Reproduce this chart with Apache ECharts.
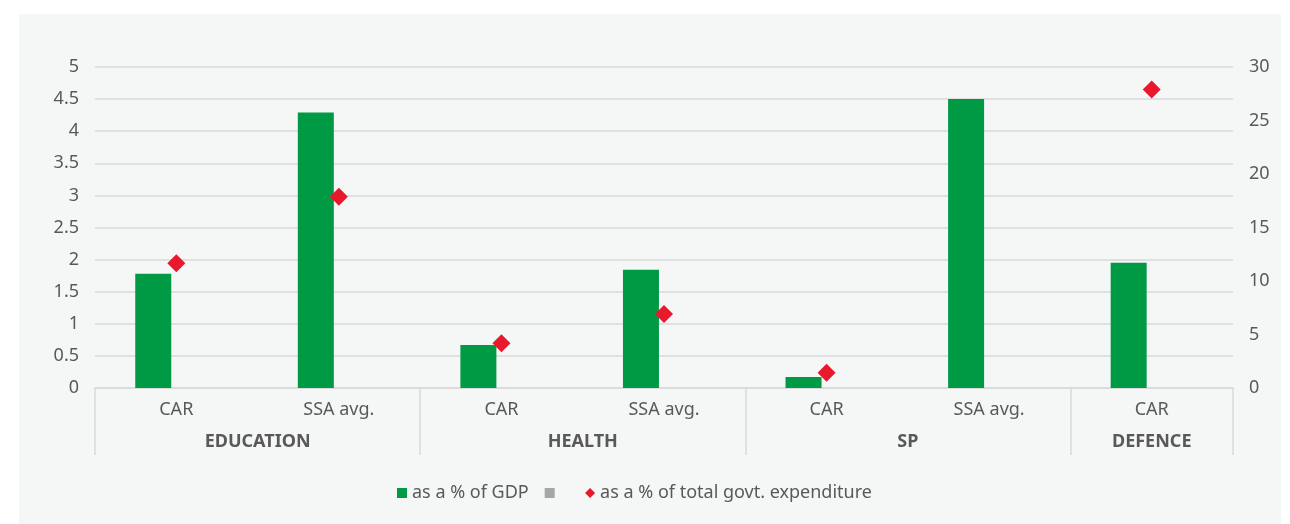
<!DOCTYPE html>
<html>
<head>
<meta charset="utf-8">
<script src="https://cdn.jsdelivr.net/npm/echarts@6/dist/echarts.min.js"></script>
<style>
  html, body { margin: 0; padding: 0; background: #ffffff; }
  .panel { position: absolute; left: 19px; top: 14px; width: 1262px; height: 510px; background: #f5f6f6; }
  #chart { position: absolute; left: 0; top: 0; width: 1290px; height: 524px; }
</style>
</head>
<body>
<div class="panel"></div>
<div id="chart"></div>
<script>
// 类别 / 分组
const categories = ['CAR', 'SSA avg.', 'CAR', 'SSA avg.', 'CAR', 'SSA avg.', 'CAR']
const groupNames = ['EDUCATION', 'HEALTH', 'SP', 'DEFENCE']
const groupEdges = [0, 2, 4, 6, 7]
const groupCenters = [1, 3, 5, 6.5]

// 数值
const gdpShare = [1.78, 4.29, 0.67, 1.84, 0.17, 4.5, 1.95]
const spendShare = [11.65, 17.88, 4.18, 6.92, 1.43, null, 27.9]
const emptySeries = [null, null, null, null, null, null, null]

const leftTicks = { min: 0, max: 5, interval: 0.5 }
const rightTicks = { min: 0, max: 30, interval: 5 }

const textColor = '#595959'
const lineColor = '#d9d9d9'
const font = 'Noto Sans'

const chart = echarts.init(document.getElementById('chart'), null, { renderer: 'canvas' })

chart.setOption({
  backgroundColor: 'transparent',
  animation: false,
  textStyle: { fontFamily: font, color: textColor },
  grid: { left: 95, right: 57, top: 67, bottom: 136, containLabel: false },
  legend: {
    left: 397,
    top: 483,
    padding: 0,
    itemWidth: 10,
    itemHeight: 10,
    itemGap: 16,
    textStyle: { fontFamily: font, fontSize: 18, color: textColor, lineHeight: 20 },
    data: [
      { name: 'as a % of GDP', icon: 'rect' },
      { name: '  ', icon: 'rect' },
      { name: 'as a % of total govt. expenditure', icon: 'diamond' },
    ],
  },
  xAxis: [
    {
      type: 'category',
      data: categories,
      position: 'bottom',
      axisLine: { lineStyle: { color: lineColor, width: 1.5 } },
      axisTick: { show: false },
      axisLabel: { fontFamily: font, fontSize: 18, color: textColor, margin: 13, interval: 0 },
    },
    {
      type: 'value',
      min: 0,
      max: 7,
      position: 'bottom',
      axisLine: { show: false },
      splitLine: { show: false },
      axisTick: {
        show: true,
        inside: false,
        length: 67,
        customValues: groupEdges,
        lineStyle: { color: lineColor, width: 1.5 },
      },
      axisLabel: {
        customValues: groupCenters,
        formatter: (v) => groupNames[groupCenters.indexOf(v)] || '',
        fontFamily: font,
        fontSize: 18,
        fontWeight: 'bold',
        color: textColor,
        margin: 45,
      },
    },
  ],
  yAxis: [
    {
      type: 'value',
      ...leftTicks,
      axisLine: { show: false },
      axisTick: { show: false },
      splitLine: { lineStyle: { color: lineColor, width: 1.5 } },
      axisLabel: { fontFamily: font, fontSize: 18, color: textColor, margin: 16 },
    },
    {
      type: 'value',
      ...rightTicks,
      position: 'right',
      axisLine: { show: false },
      axisTick: { show: false },
      splitLine: { show: false },
      axisLabel: { fontFamily: font, fontSize: 18, color: textColor, margin: 16 },
    },
  ],
  series: [
    {
      name: 'as a % of GDP',
      type: 'bar',
      xAxisIndex: 0,
      yAxisIndex: 0,
      barWidth: 36,
      barGap: '28%',
      itemStyle: { color: '#009a44' },
      data: gdpShare,
    },
    {
      name: '  ',
      type: 'bar',
      xAxisIndex: 0,
      yAxisIndex: 0,
      barWidth: 36,
      itemStyle: { color: '#a6a6a6' },
      data: emptySeries,
    },
    {
      name: 'as a % of total govt. expenditure',
      type: 'scatter',
      xAxisIndex: 0,
      yAxisIndex: 1,
      symbol: 'diamond',
      symbolSize: 18,
      itemStyle: { color: '#e8192c', opacity: 1 },
      data: spendShare,
      z: 5,
    },
  ],
})
</script>
</body>
</html>
